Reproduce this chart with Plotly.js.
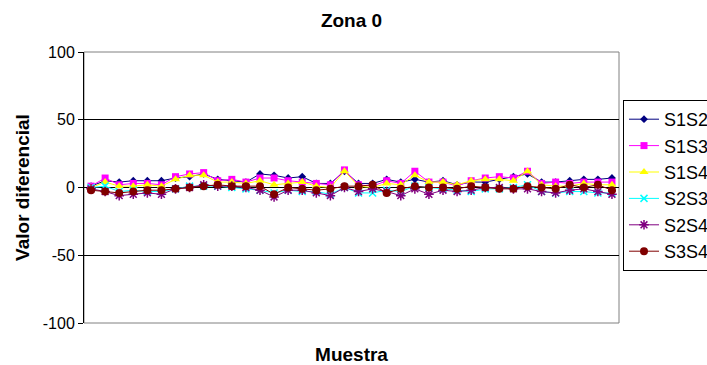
<!DOCTYPE html>
<html>
<head>
<meta charset="utf-8">
<script src="https://cdn.plot.ly/plotly-3.0.1.min.js"></script>
<style>html,body{margin:0;padding:0;background:#fff;}#chart{width:707px;height:365px;}</style>
</head>
<body>
<div id="chart"></div>
<script>
const seriesNames = ["S1S2", "S1S3", "S1S4", "S2S3", "S2S4", "S3S4"];
const S1S2 = [1,5,4,5,5,5,7,8,10,6,5,4,10,9,7,8,3,3,12,3,3,6,4,6,4,5,2,4,4,6,8,10,4,4,5,6,6,7];
const S1S3 = [1,7,2,3,3,2,8,10,11,5,6,4,7,7,5,4,3,2,13,2,1,5,3,12,4,4,1,5,7,8,7,12,3,4,3,4,4,4];
const S1S4 = [0,4,1,1,2,1,6,9,9,4,4,3,5,2,3,4,1,0,12,1,0,3,2,9,4,4,2,5,6,6,5,12,2,1,1,3,2,2];
const S2S3 = [0,1,-3,-2,-3,-3,-1,1,1,1,0,-1,-2,-4,-2,-3,-3,-5,0,-4,-4,-2,-3,1,0,-1,-2,-3,-1,-1,0,2,-3,-4,-3,-3,-4,-4];
const S2S4 = [-1,-3,-6,-5,-4,-5,-1,0,2,1,1,0,-2,-7,-2,-2,-4,-6,0,-3,-1,-3,-6,-1,-5,-2,-3,-2,0,0,-1,-1,-3,-4,-2,-1,-3,-5];
const S3S4 = [-2,-3,-4,-3,-2,-2,-1,0,1,2,1,1,1,-5,0,-1,-2,-1,1,1,2,-4,-1,1,0,0,-1,1,0,-1,-1,1,0,-1,2,0,2,-2];
const yTicks = [-100, -50, 0, 50, 100];

const seriesData = [S1S2, S1S3, S1S4, S2S3, S2S4, S3S4];
const colors = ["#000080", "#FF00FF", "#FFFF00", "#00FFFF", "#800080", "#800000"];
const symbols = ["diamond", "square", "triangle-up", "x-thin", "asterisk", "circle"];
const sizes = [6, 7, 8, 7, 8, 8];
const samples = S1S2.map((_, i) => i + 1);

const traces = seriesData.map((ys, k) => ({
  type: "scatter",
  mode: "lines+markers",
  name: seriesNames[k],
  legendgroup: seriesNames[k],
  x: samples,
  y: ys,
  line: {color: colors[k], width: 1},
  marker: {
    symbol: symbols[k],
    size: sizes[k],
    color: colors[k],
    line: {color: colors[k], width: (symbols[k] === "x-thin" || symbols[k] === "asterisk") ? 1.5 : 0}
  }
}));

const layout = {
  width: 707,
  height: 365,
  margin: {l: 84, r: 88, t: 52, b: 42},
  paper_bgcolor: "#ffffff",
  plot_bgcolor: "#ffffff",
  font: {family: "Liberation Sans, Arial, sans-serif", color: "#000", size: 16},
  title: {text: "<b>Zona 0</b>", x: 0.5, xref: "paper", y: 0.945, yref: "container", yanchor: "middle", font: {size: 19}},
  xaxis: {
    range: [0.5, samples.length + 0.5],
    showticklabels: false,
    showgrid: false,
    zeroline: false,
    showline: false,
    ticks: "",
    title: {text: "<b>Muestra</b>", font: {size: 19}, standoff: 24}
  },
  yaxis: {
    range: [-100, 100],
    tickvals: yTicks,
    ticktext: yTicks.map(String),
    showgrid: true,
    gridcolor: "#000",
    gridwidth: 1,
    zeroline: true,
    zerolinecolor: "#000",
    zerolinewidth: 1,
    showline: true,
    linecolor: "#000",
    linewidth: 1,
    ticks: "outside",
    ticklen: 5,
    tickcolor: "#000",
    tickfont: {size: 16},
    title: {text: "<b>Valor diferencial</b>", font: {size: 19}, standoff: 8}
  },
  shapes: [{type: "rect", xref: "paper", yref: "paper", x0: 0, x1: 1, y0: 0, y1: 1, line: {color: "#808080", width: 1}, layer: "below"}],
  showlegend: true,
  legend: {
    xref: "container", yref: "container",
    x: 623 / 707, xanchor: "left", y: 1 - 100 / 365, yanchor: "top",
    bordercolor: "#000", borderwidth: 1, bgcolor: "#fff",
    font: {size: 18}, tracegroupgap: 2, traceorder: "normal"
  }
};

Plotly.newPlot("chart", traces, layout, {displayModeBar: false, staticPlot: true});
</script>
</body>
</html>
